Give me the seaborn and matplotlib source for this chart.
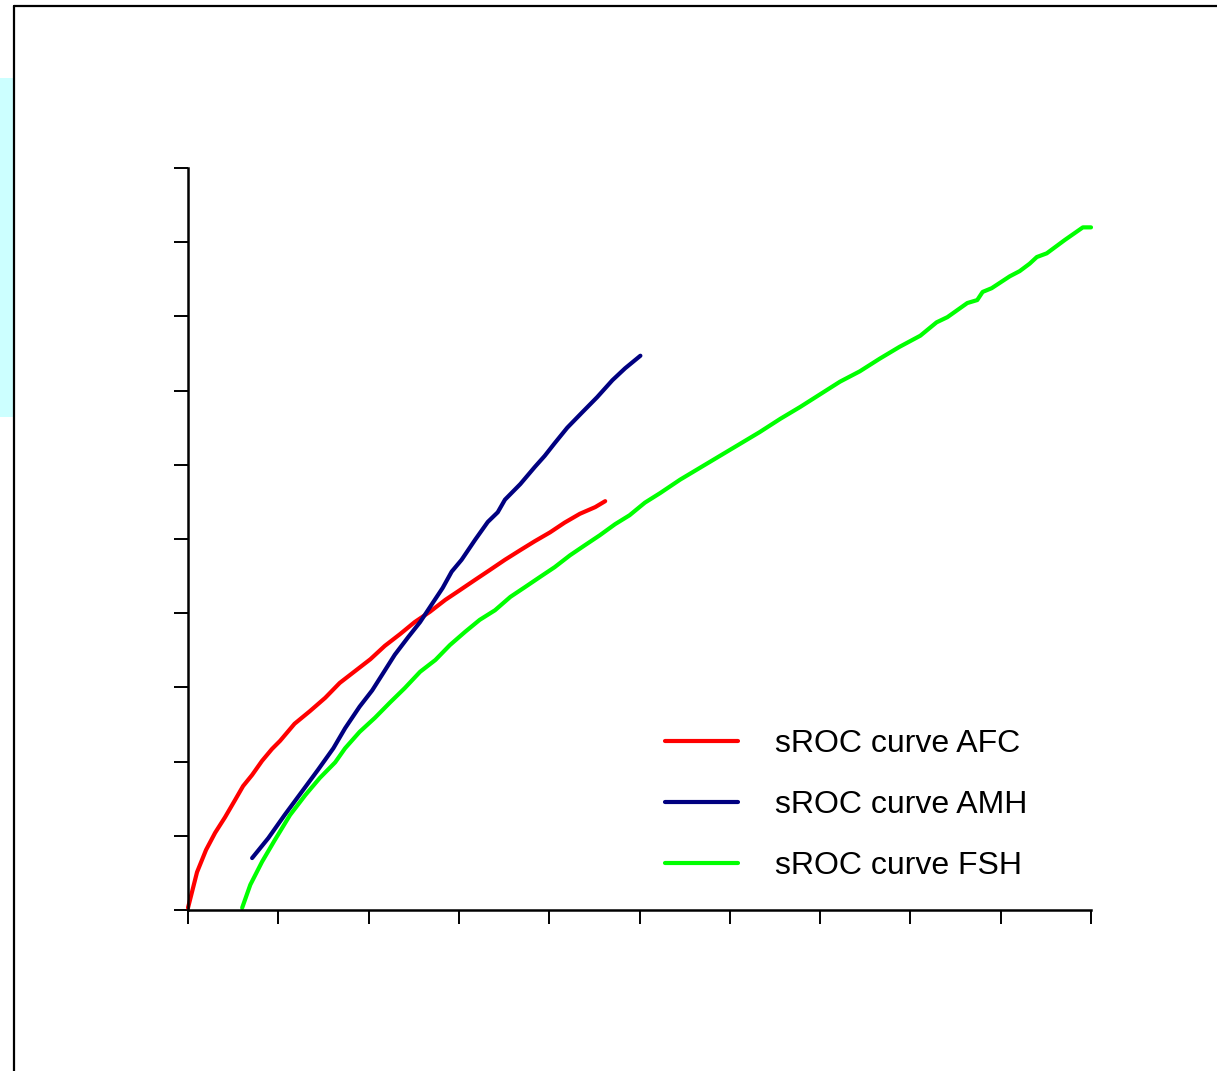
import matplotlib
matplotlib.use("Agg")
import matplotlib.pyplot as plt
from matplotlib.patches import Rectangle
from matplotlib.lines import Line2D
import seaborn as sns
import pandas as pd

sns.set_style("ticks")
plt.rcParams['font.family'] = ['Liberation Sans', 'DejaVu Sans']
plt.rcParams['text.color'] = 'black'

# Data (1 - specificity, sensitivity)
afc_x = [0.000, 0.010, 0.020, 0.030, 0.041, 0.052, 0.061, 0.071, 0.082, 0.093, 0.102,
         0.118, 0.135, 0.152, 0.168, 0.185, 0.202, 0.218, 0.235, 0.251, 0.268, 0.285,
         0.301, 0.318, 0.334, 0.351, 0.368, 0.384, 0.401, 0.417, 0.434, 0.451, 0.462]
afc_y = [0.003, 0.051, 0.081, 0.104, 0.125, 0.148, 0.167, 0.182, 0.201, 0.217, 0.228,
         0.251, 0.268, 0.286, 0.306, 0.322, 0.338, 0.356, 0.372, 0.388, 0.402, 0.418,
         0.431, 0.445, 0.458, 0.472, 0.485, 0.497, 0.509, 0.522, 0.534, 0.543, 0.551]

amh_x = [0.071, 0.089, 0.107, 0.124, 0.144, 0.161, 0.174, 0.190, 0.204, 0.216, 0.229,
         0.244, 0.257, 0.270, 0.282, 0.292, 0.303, 0.318, 0.332, 0.343, 0.351, 0.368,
         0.384, 0.395, 0.406, 0.420, 0.436, 0.453, 0.470, 0.484, 0.501]
amh_y = [0.070, 0.097, 0.128, 0.156, 0.189, 0.218, 0.245, 0.274, 0.296, 0.319, 0.344,
         0.368, 0.388, 0.412, 0.434, 0.456, 0.472, 0.499, 0.523, 0.536, 0.553, 0.574,
         0.597, 0.612, 0.629, 0.650, 0.670, 0.691, 0.714, 0.730, 0.747]

fsh_x = [0.060, 0.069, 0.082, 0.096, 0.113, 0.130, 0.146, 0.163, 0.174, 0.190, 0.207,
         0.224, 0.240, 0.257, 0.274, 0.290, 0.307, 0.323, 0.340, 0.357, 0.373, 0.390,
         0.406, 0.423, 0.440, 0.456, 0.473, 0.489, 0.506, 0.523, 0.545, 0.567, 0.589,
         0.611, 0.633, 0.656, 0.678, 0.700, 0.722, 0.744, 0.766, 0.788, 0.811, 0.829,
         0.841, 0.863, 0.874, 0.880, 0.890, 0.910, 0.921, 0.932, 0.940, 0.951, 0.971,
         0.991, 1.000]
fsh_y = [0.003, 0.034, 0.065, 0.094, 0.128, 0.155, 0.178, 0.199, 0.218, 0.240, 0.259,
         0.280, 0.299, 0.321, 0.337, 0.357, 0.375, 0.391, 0.404, 0.422, 0.435, 0.449,
         0.462, 0.478, 0.492, 0.505, 0.520, 0.532, 0.549, 0.562, 0.580, 0.596, 0.612,
         0.628, 0.644, 0.662, 0.678, 0.695, 0.712, 0.726, 0.743, 0.759, 0.774, 0.792,
         0.799, 0.818, 0.822, 0.833, 0.838, 0.854, 0.861, 0.871, 0.880, 0.885, 0.903,
         0.920, 0.920]

labels = ["sROC curve AFC", "sROC curve AMH", "sROC curve FSH"]
colors = ["#FF0000", "#000080", "#00FF00"]

df = pd.concat([
    pd.DataFrame({"x": afc_x, "y": afc_y, "curve": labels[0]}),
    pd.DataFrame({"x": amh_x, "y": amh_y, "curve": labels[1]}),
    pd.DataFrame({"x": fsh_x, "y": fsh_y, "curve": labels[2]}),
], ignore_index=True)

W, H = 1217, 1071
fig = plt.figure(figsize=(W / 100, H / 100), dpi=100)
fig.patch.set_facecolor("white")

# decorative frame and cyan strip
fig.add_artist(Rectangle((0, 1 - 417 / H), 13 / W, (417 - 78) / H,
                         transform=fig.transFigure, facecolor="#CCFFFF",
                         edgecolor="none", zorder=0))
fig.add_artist(Line2D([13.5 / W, 1.0], [1 - 5.5 / H, 1 - 5.5 / H],
                      transform=fig.transFigure, color="black", lw=1.6))
fig.add_artist(Line2D([13.5 / W, 13.5 / W], [0, 1 - 5.5 / H],
                      transform=fig.transFigure, color="black", lw=1.6))

ax = fig.add_axes([188 / W, 1 - 910 / H, (1091 - 188) / W, (910 - 168) / H])
ax.set_facecolor("none")

sns.lineplot(data=df, x="x", y="y", hue="curve", hue_order=labels,
             palette=colors, sort=False, estimator=None, linewidth=3.0,
             ax=ax, legend=False)
for l in ax.lines:
    l.set_solid_capstyle("round")
    l.set_clip_on(False)

ax.set_xlim(0, 1)
ax.set_ylim(0, 1)
ax.set_xticks([i / 10 for i in range(11)])
ax.set_yticks([i / 10 for i in range(11)])
ax.set_xticklabels([])
ax.set_yticklabels([])
ax.set_xlabel("")
ax.set_ylabel("")
sns.despine(ax=ax)
for s in ["left", "bottom"]:
    ax.spines[s].set_linewidth(1.8)
    ax.spines[s].set_color("black")
ax.tick_params(axis="both", direction="out", length=10, width=1.4, color="black")

handles = [Line2D([0], [0], color=c, lw=3.0) for c in colors]
leg = ax.legend(handles, labels, loc="center left",
                bbox_to_anchor=((665 - 188) / 903, (910 - 805) / 742),
                frameon=False, fontsize=23, handlelength=2.3,
                handletextpad=1.15, labelspacing=0.98,
                borderpad=0, borderaxespad=0)
for t in leg.get_texts():
    t.set_color("black")

fig.savefig("out.png", dpi=100)
